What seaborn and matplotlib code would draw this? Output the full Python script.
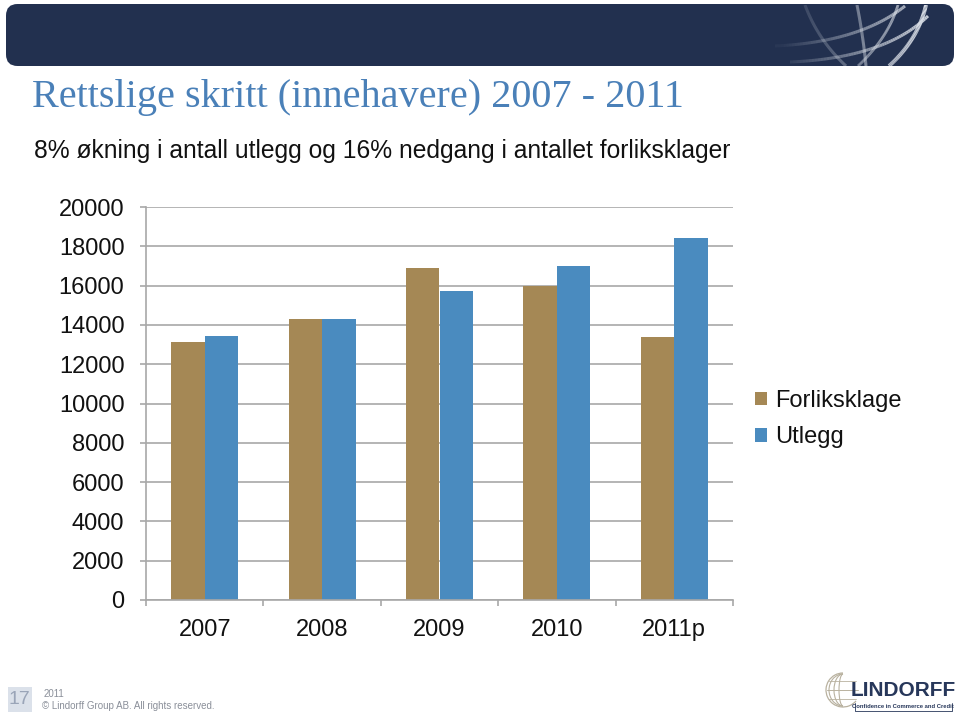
import matplotlib
matplotlib.use("Agg")
import matplotlib.pyplot as plt
import seaborn as sns
import pandas as pd
import numpy as np
from matplotlib.patches import FancyBboxPatch, Rectangle, Arc
from matplotlib.collections import LineCollection

years = ["2007", "2008", "2009", "2010", "2011p"]
forliksklage = [13150, 14300, 16900, 16000, 13400]
utlegg = [13430, 14300, 15750, 17000, 18400]
series_names = ["Forliksklage", "Utlegg"]
yticks = [0, 2000, 4000, 6000, 8000, 10000, 12000, 14000, 16000, 18000, 20000]

title = "Rettslige skritt (innehavere) 2007 - 2011"
subtitle = "8% økning i antall utlegg og 16% nedgang i antallet forliksklager"

df = pd.DataFrame({
    "year": years * 2,
    "value": forliksklage + utlegg,
    "serie": [series_names[0]] * len(years) + [series_names[1]] * len(years),
})

sns.set_theme(style="white")
plt.rcParams["font.family"] = ["Liberation Sans", "DejaVu Sans"]

W, H = 960, 716
fig = plt.figure(figsize=(W / 100, H / 100), dpi=100)

def fx(x): return x / W
def fy(y): return 1 - y / H

# Header bar
hdr = FancyBboxPatch((fx(6), fy(66)), fx(948), (62) / H,
                     boxstyle="round,pad=0,rounding_size=0.012",
                     transform=fig.transFigure, facecolor="#22304f",
                     edgecolor="none", mutation_aspect=W / H, zorder=-5)
fig.patches.append(hdr)

# Globe decoration in the header
gax = fig.add_axes([fx(770), fy(66), fx(180), 61 / H], zorder=2)
gax.set_xlim(770, 950)
gax.set_ylim(66, 5)
gax.axis("off")

def bez(p0, p1, p2, n=60):
    t = np.linspace(0, 1, n)[:, None]
    p0, p1, p2 = map(np.array, (p0, p1, p2))
    return (1 - t) ** 2 * p0 + 2 * (1 - t) * t * p1 + t ** 2 * p2

curves = [
    ((805, 5), (818, 40), (846, 66), 2.2, 0.75),
    ((857, 5), (863, 35), (866, 66), 2.2, 0.85),
    ((926, 5), (918, 40), (889, 66), 2.8, 1.0),
    ((898, 5), (888, 38), (858, 66), 2.0, 0.85),
    ((775, 46), (860, 42), (905, 6), 2.2, 0.85),
    ((790, 62), (885, 58), (928, 16), 2.2, 0.9),
]
for p0, p1, p2, lw, amax in curves:
    pts = bez(p0, p1, p2)
    segs = np.stack([pts[:-1], pts[1:]], axis=1)
    xm = segs[:, :, 0].mean(axis=1)
    a = np.clip((xm - 775) / 150, 0.05, 1) * amax
    cols = [(0.85, 0.87, 0.9, float(v)) for v in a]
    gax.add_collection(LineCollection(segs, colors=cols, linewidths=lw))

# Titles
fig.text(fx(32), fy(97), title, family=["Liberation Serif", "DejaVu Serif"],
         fontsize=29, color="#4a80b8", va="center", ha="left")
fig.text(fx(34), fy(151), subtitle, fontsize=17.7, color="#111111",
         va="center", ha="left")

# Chart
ax = fig.add_axes([fx(146), fy(600), fx(733 - 146), (600 - 207) / H])
palette = {"Forliksklage": "#a58855", "Utlegg": "#4a8bbf"}
sns.barplot(data=df, x="year", y="value", hue="serie", palette=palette,
            width=0.57, ax=ax, saturation=1, legend=True, edgecolor="none")
ax.set_ylim(0, 20000)
ax.set_xlim(-0.5, len(years) - 0.5)
ax.set_yticks(yticks)
ax.set_yticklabels([str(v) for v in yticks], fontsize=17, color="#111111")
ax.set_xticks(range(len(years)))
ax.set_xticklabels(years, fontsize=17, color="#111111")
ax.set_xlabel("")
ax.set_ylabel("")
ax.yaxis.grid(True, color="#a8a8a8", lw=1.2)
ax.set_axisbelow(True)
for s in ["top", "right"]:
    ax.spines[s].set_visible(False)
for s in ["left", "bottom"]:
    ax.spines[s].set_color("#a8a8a8")
    ax.spines[s].set_linewidth(1.2)
ax.tick_params(axis="y", length=4.5, width=1.2, color="#a8a8a8", pad=11, left=True)
ax.tick_params(axis="x", length=0, pad=14)
ax.set_xticks(np.arange(-0.5, len(years)), minor=True)
ax.tick_params(axis="x", which="minor", length=4.5, width=1.2, color="#a8a8a8", bottom=True)

leg = ax.legend(loc="center left", bbox_to_anchor=((746 - 146) / 587, (600 - 419) / 393),
                frameon=False, fontsize=17, handlelength=0.5, handleheight=0.5,
                handletextpad=0.35, labelspacing=0.62, borderaxespad=0)
for t in leg.get_texts():
    t.set_color("#111111")

# Footer
fig.patches.append(Rectangle((fx(8), fy(712)), fx(24), 25 / H,
                             transform=fig.transFigure, facecolor="#dbe1ea",
                             edgecolor="none"))
fig.text(fx(19), fy(700), "17", fontsize=14, color="#9aa5b8", ha="center", va="center")
fig.text(fx(44), fy(694), "2011", fontsize=7, color="#8a8f99", ha="left", va="center")
fig.text(fx(42), fy(706), "© Lindorff Group AB. All rights reserved.", fontsize=7,
         color="#8a8f99", ha="left", va="center")

# Logo
lax = fig.add_axes([fx(818), fy(715), fx(140), 48 / H])
lax.set_xlim(818, 958)
lax.set_ylim(715, 667)
lax.axis("off")
for rx in [4, 9, 14]:
    lax.add_patch(Arc((843, 690), 2 * rx, 32, theta1=90, theta2=270,
                      color="#b9b2a0", lw=0.8))
lax.add_patch(Arc((843, 690), 34, 34, theta1=40, theta2=270, color="#b9b2a0", lw=0.9))
lax.plot([827, 858], [690, 690], color="#b9b2a0", lw=0.7)
lax.plot([829, 856], [681, 681], color="#b9b2a0", lw=0.6)
lax.plot([829, 856], [699, 699], color="#b9b2a0", lw=0.6)
lax.text(903, 690, "LINDORFF", fontsize=15, fontweight="bold", color="#27375a",
         ha="center", va="center")
lax.text(903, 707, "Confidence in Commerce and Credit", fontsize=4.2,
         fontweight="bold", color="#27375a", ha="center", va="center")
lax.plot([855, 855, 952, 952], [703, 711, 711, 703], color="#27375a", lw=0.6)

fig.savefig("out.png", dpi=100, facecolor="white")
